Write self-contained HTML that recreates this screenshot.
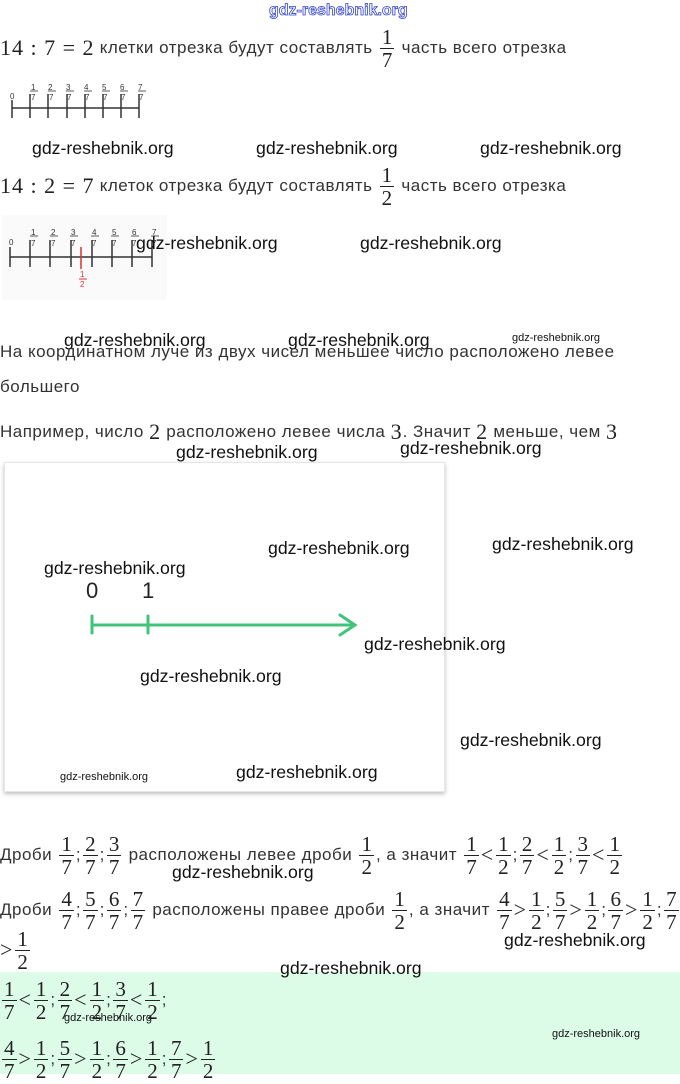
<!DOCTYPE html>
<html><head><meta charset="utf-8"><style>
body{margin:0;width:680px;height:1074px;position:relative;background:#fff;overflow:hidden;font-family:"Liberation Sans",sans-serif;color:#333}
.a{position:absolute}
.ln{position:absolute;left:0;height:50px;display:flex;align-items:center;white-space:nowrap;font-size:17px;letter-spacing:0.5px;color:#333}
.m{font-family:"Liberation Serif",serif;font-size:22px;color:#222;letter-spacing:1px}
.f{display:inline-flex;flex-direction:column;align-items:center;font-family:"Liberation Serif",serif;font-size:21px;line-height:22px;color:#222;margin:0 2px;letter-spacing:0}
.f span:first-child{border-bottom:1.3px solid #222;padding:0 2px}
.w{position:absolute;font-size:17.7px;color:#111;white-space:nowrap;font-family:"Liberation Sans",sans-serif}
.ws{position:absolute;font-size:11px;color:#111;white-space:nowrap}
.band{position:absolute;left:0;top:972px;width:680px;height:102px;background:#dcfce8}
.card{position:absolute;left:4px;top:462px;width:439px;height:328px;background:#fff;border:1px solid #e6e6e6;box-shadow:0 2px 4px rgba(0,0,0,.25)}
</style></head><body>
<div class="a" style="left:269px;top:2px;font-size:16px;color:#fff;-webkit-text-stroke:0.8px #3344cc;font-weight:bold">gdz-reshebnik.org</div>

<div class="ln" style="top:23px"><span class="m">14 : 7 = 2</span>&nbsp;клетки отрезка будут составлять&nbsp;<span class="f"><span>1</span><span>7</span></span>&nbsp;часть всего отрезка</div>

<svg class="a" style="left:0;top:80px" width="170" height="50">
<g stroke="#333" stroke-width="1.5"><line x1="12" y1="28" x2="139" y2="28"/>
<line x1="12" y1="20" x2="12" y2="38"/><line x1="30" y1="14" x2="30" y2="38"/><line x1="48" y1="14" x2="48" y2="38"/><line x1="67" y1="14" x2="67" y2="38"/><line x1="85" y1="14" x2="85" y2="38"/><line x1="103" y1="14" x2="103" y2="38"/><line x1="121" y1="14" x2="121" y2="38"/><line x1="139" y1="14" x2="139" y2="38"/></g>
<g stroke="#333" stroke-width="0.8"><line x1="30" y1="11" x2="38" y2="11"/><line x1="48" y1="11" x2="56" y2="11"/><line x1="66" y1="11" x2="74" y2="11"/><line x1="84" y1="11" x2="92" y2="11"/><line x1="102" y1="11" x2="110" y2="11"/><line x1="120" y1="11" x2="128" y2="11"/><line x1="138" y1="11" x2="146" y2="11"/></g>
<g font-size="8" fill="#333" font-family="Liberation Sans"><text x="10" y="19">0</text>
<text x="31" y="10">1</text><text x="48" y="10">2</text><text x="66" y="10">3</text><text x="84" y="10">4</text><text x="102" y="10">5</text><text x="120" y="10">6</text><text x="138" y="10">7</text>
<text x="31" y="20">7</text><text x="49" y="20">7</text><text x="67" y="20">7</text><text x="85" y="20">7</text><text x="103" y="20">7</text><text x="121" y="20">7</text><text x="139" y="20">7</text></g>
</svg>

<div class="w" style="left:32px;top:138px">gdz-reshebnik.org</div>
<div class="w" style="left:256px;top:138px">gdz-reshebnik.org</div>
<div class="w" style="left:480px;top:138px">gdz-reshebnik.org</div>

<div class="ln" style="top:161px"><span class="m">14 : 2 = 7</span>&nbsp;клеток отрезка будут составлять&nbsp;<span class="f"><span>1</span><span>2</span></span>&nbsp;часть всего отрезка</div>

<svg class="a" style="left:0;top:215px" width="170" height="85">
<rect x="2" y="0" width="165" height="85" fill="#fafafa"/>
<g stroke="#333" stroke-width="1.5"><line x1="10" y1="42" x2="152" y2="42"/>
<line x1="10" y1="32" x2="10" y2="52"/><line x1="30" y1="25" x2="30" y2="52"/><line x1="50" y1="25" x2="50" y2="52"/><line x1="71" y1="25" x2="71" y2="52"/><line x1="92" y1="25" x2="92" y2="52"/><line x1="112" y1="25" x2="112" y2="52"/><line x1="132" y1="25" x2="132" y2="52"/><line x1="152" y1="25" x2="152" y2="52"/></g>
<g stroke="#333" stroke-width="0.8"><line x1="30" y1="21" x2="38" y2="21"/><line x1="50" y1="21" x2="58" y2="21"/><line x1="70" y1="21" x2="78" y2="21"/><line x1="91" y1="21" x2="99" y2="21"/><line x1="111" y1="21" x2="119" y2="21"/><line x1="131" y1="21" x2="139" y2="21"/><line x1="151" y1="21" x2="159" y2="21"/></g>
<line x1="81" y1="32" x2="81" y2="54" stroke="#d33" stroke-width="1.5"/>
<g font-size="8" fill="#333" font-family="Liberation Sans"><text x="9" y="30">0</text>
<text x="31" y="20">1</text><text x="51" y="20">2</text><text x="71" y="20">3</text><text x="92" y="20">4</text><text x="112" y="20">5</text><text x="132" y="20">6</text><text x="152" y="20">7</text>
<text x="31" y="31">7</text><text x="51" y="31">7</text><text x="71" y="31">7</text><text x="92" y="31">7</text><text x="112" y="31">7</text><text x="132" y="31">7</text><text x="152" y="31">7</text></g>
<text x="80" y="62" font-size="8" fill="#d33">1</text><line x1="79" y1="64" x2="87" y2="64" stroke="#d33"/><text x="80" y="72" font-size="8" fill="#d33">2</text>
</svg>
<div class="w" style="left:136px;top:233px">gdz-reshebnik.org</div>
<div class="w" style="left:360px;top:233px">gdz-reshebnik.org</div>

<div class="w" style="left:64px;top:330px">gdz-reshebnik.org</div>
<div class="w" style="left:288px;top:330px">gdz-reshebnik.org</div>
<div class="ws" style="left:512px;top:332px">gdz-reshebnik.org</div>
<div class="ln" style="top:327px">На координатном луче из двух чисел меньшее число расположено левее</div>
<div class="ln" style="top:362px">большего</div>
<div class="ln" style="top:407px">Например, число&nbsp;<span class="m">2</span>&nbsp;расположено левее числа&nbsp;<span class="m">3</span>. Значит&nbsp;<span class="m">2</span>&nbsp;меньше, чем&nbsp;<span class="m">3</span></div>
<div class="w" style="left:176px;top:442px">gdz-reshebnik.org</div>
<div class="w" style="left:400px;top:438px">gdz-reshebnik.org</div>

<div class="card"></div>
<svg class="a" style="left:0;top:570px" width="370" height="70">
<text x="86" y="28" font-size="22" fill="#222" font-family="Liberation Sans">0</text>
<text x="142" y="28" font-size="22" fill="#222" font-family="Liberation Sans">1</text>
<g stroke="#3fc47a" stroke-width="3" fill="none" stroke-linecap="round"><line x1="92" y1="55" x2="354" y2="55"/><line x1="92" y1="46" x2="92" y2="63"/><line x1="148" y1="46" x2="148" y2="63"/><polyline points="340,45 355,55 340,65"/></g>
</svg>
<div class="w" style="left:268px;top:538px">gdz-reshebnik.org</div>
<div class="w" style="left:492px;top:534px">gdz-reshebnik.org</div>
<div class="w" style="left:44px;top:558px">gdz-reshebnik.org</div>
<div class="w" style="left:364px;top:634px">gdz-reshebnik.org</div>
<div class="w" style="left:140px;top:666px">gdz-reshebnik.org</div>
<div class="w" style="left:460px;top:730px">gdz-reshebnik.org</div>
<div class="ws" style="left:60px;top:771px">gdz-reshebnik.org</div>
<div class="w" style="left:236px;top:762px">gdz-reshebnik.org</div>

<div class="ln" style="top:830px">Дроби&nbsp;<span class="f"><span>1</span><span>7</span></span>;<span class="f"><span>2</span><span>7</span></span>;<span class="f"><span>3</span><span>7</span></span>&nbsp;расположены левее дроби&nbsp;<span class="f"><span>1</span><span>2</span></span>, а значит&nbsp;<span class="f"><span>1</span><span>7</span></span><span class="m">&lt;</span><span class="f"><span>1</span><span>2</span></span>;<span class="f"><span>2</span><span>7</span></span><span class="m">&lt;</span><span class="f"><span>1</span><span>2</span></span>;<span class="f"><span>3</span><span>7</span></span><span class="m">&lt;</span><span class="f"><span>1</span><span>2</span></span></div>
<div class="w" style="left:172px;top:862px">gdz-reshebnik.org</div>
<div class="ln" style="top:885px">Дроби&nbsp;<span class="f"><span>4</span><span>7</span></span>;<span class="f"><span>5</span><span>7</span></span>;<span class="f"><span>6</span><span>7</span></span>;<span class="f"><span>7</span><span>7</span></span>&nbsp;расположены правее дроби&nbsp;<span class="f"><span>1</span><span>2</span></span>, а значит&nbsp;<span class="f"><span>4</span><span>7</span></span><span class="m">&gt;</span><span class="f"><span>1</span><span>2</span></span>;<span class="f"><span>5</span><span>7</span></span><span class="m">&gt;</span><span class="f"><span>1</span><span>2</span></span>;<span class="f"><span>6</span><span>7</span></span><span class="m">&gt;</span><span class="f"><span>1</span><span>2</span></span>;<span class="f"><span>7</span><span>7</span></span></div>
<div class="ln" style="top:925px"><span class="m">&gt;</span><span class="f"><span>1</span><span>2</span></span></div>
<div class="w" style="left:504px;top:930px">gdz-reshebnik.org</div>
<div class="band"></div>
<div class="w" style="left:280px;top:958px">gdz-reshebnik.org</div>
<div class="ln" style="top:975px"><span class="f"><span>1</span><span>7</span></span><span class="m">&lt;</span><span class="f"><span>1</span><span>2</span></span>;<span class="f"><span>2</span><span>7</span></span><span class="m">&lt;</span><span class="f"><span>1</span><span>2</span></span>;<span class="f"><span>3</span><span>7</span></span><span class="m">&lt;</span><span class="f"><span>1</span><span>2</span></span>;</div>
<div class="ws" style="left:64px;top:1012px">gdz-reshebnik.org</div>
<div class="ws" style="left:552px;top:1028px">gdz-reshebnik.org</div>
<div class="ln" style="top:1034px"><span class="f"><span>4</span><span>7</span></span><span class="m">&gt;</span><span class="f"><span>1</span><span>2</span></span>;<span class="f"><span>5</span><span>7</span></span><span class="m">&gt;</span><span class="f"><span>1</span><span>2</span></span>;<span class="f"><span>6</span><span>7</span></span><span class="m">&gt;</span><span class="f"><span>1</span><span>2</span></span>;<span class="f"><span>7</span><span>7</span></span><span class="m">&gt;</span><span class="f"><span>1</span><span>2</span></span></div>
</body></html>
